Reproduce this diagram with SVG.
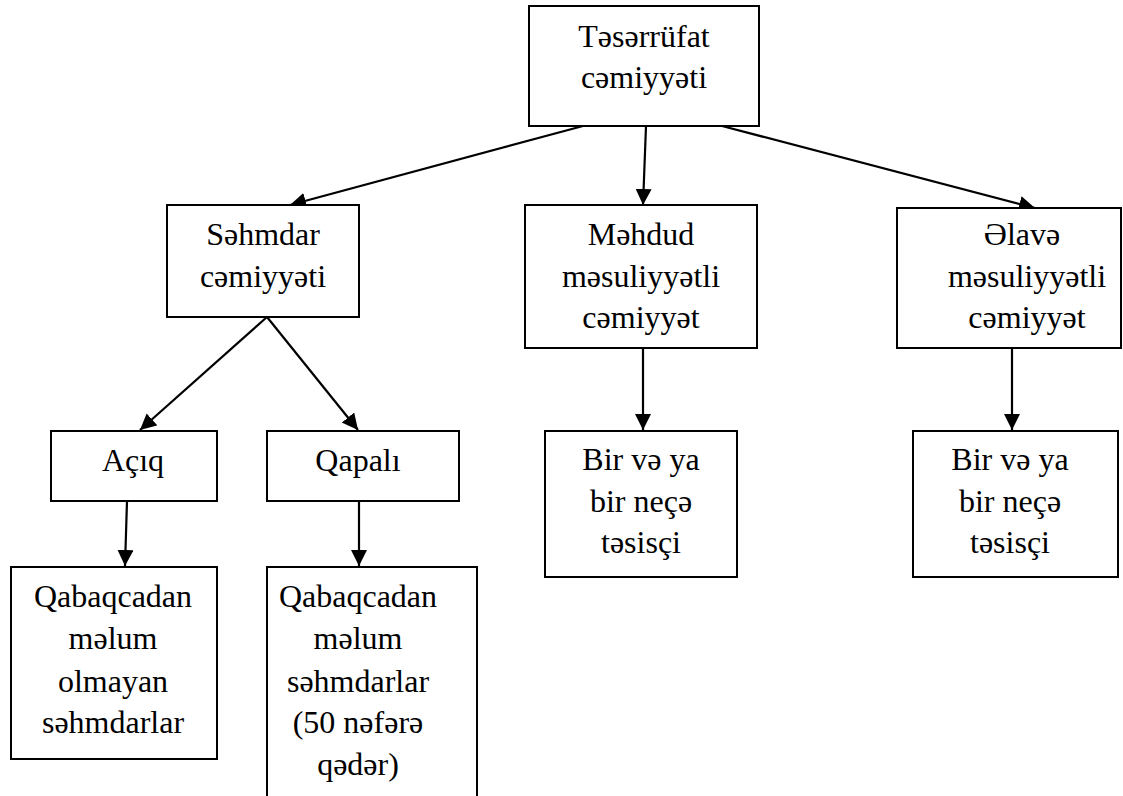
<svg xmlns="http://www.w3.org/2000/svg" width="1123" height="796" viewBox="0 0 1123 796">
<style>
rect.box{fill:#fff;stroke:#000;stroke-width:2}
text{font-family:"Liberation Serif","Times New Roman",serif;font-size:32px;fill:#000;text-anchor:middle}
.conn line{stroke:#000;stroke-width:2.2;fill:none}
</style>
<defs>
<marker id="arr" markerUnits="userSpaceOnUse" markerWidth="17" markerHeight="17" viewBox="0 0 17 17" refX="16" refY="8" orient="auto">
<path d="M0,0 L16,8 L0,16 z" fill="#000"/>
</marker>
</defs>
<rect width="1123" height="796" fill="#fff"/>
<g class="conn" id="connectors">
<line x1="583" y1="126" x2="290" y2="205" marker-end="url(#arr)"/>
<line x1="646" y1="126" x2="643" y2="205" marker-end="url(#arr)"/>
<line x1="722" y1="126" x2="1035" y2="208" marker-end="url(#arr)"/>
<line x1="267" y1="317" x2="140" y2="430" marker-end="url(#arr)"/>
<line x1="267" y1="317" x2="358" y2="430" marker-end="url(#arr)"/>
<line x1="127" y1="501" x2="125" y2="566" marker-end="url(#arr)"/>
<line x1="359" y1="501" x2="359" y2="566" marker-end="url(#arr)"/>
<line x1="643" y1="348" x2="643" y2="430" marker-end="url(#arr)"/>
<line x1="1012" y1="348" x2="1012" y2="430" marker-end="url(#arr)"/>
</g>
<g id="n-teserrufat">
<rect class="box" x="529" y="6" width="230" height="120"/>
<text x="644" y="47">Təsərrüfat</text>
<text x="644" y="88">cəmiyyəti</text>
</g>
<g id="n-sehmdar">
<rect class="box" x="167" y="205" width="192" height="112"/>
<text x="263" y="245">Səhmdar</text>
<text x="263" y="287">cəmiyyəti</text>
</g>
<g id="n-mehdud">
<rect class="box" x="525" y="205" width="232" height="143"/>
<text x="641" y="245">Məhdud</text>
<text x="641" y="287">məsuliyyətli</text>
<text x="641" y="328">cəmiyyət</text>
</g>
<g id="n-elave">
<rect class="box" x="897" y="208" width="224" height="140"/>
<text x="1022" y="245">Əlavə</text>
<text x="1027" y="287">məsuliyyətli</text>
<text x="1027" y="328">cəmiyyət</text>
</g>
<g id="n-aciq">
<rect class="box" x="51" y="431" width="166" height="70"/>
<text x="133" y="471">Açıq</text>
</g>
<g id="n-qapali">
<rect class="box" x="267" y="431" width="192" height="70"/>
<text x="358" y="471">Qapalı</text>
</g>
<g id="n-mehdud-tesisci">
<rect class="box" x="545" y="431" width="192" height="146"/>
<text x="641" y="470">Bir və ya</text>
<text x="641" y="512">bir neçə</text>
<text x="641" y="553">təsisçi</text>
</g>
<g id="n-elave-tesisci">
<rect class="box" x="913" y="431" width="205" height="146"/>
<text x="1010" y="470">Bir və ya</text>
<text x="1010" y="512">bir neçə</text>
<text x="1010" y="553">təsisçi</text>
</g>
<g id="n-aciq-sehmdarlar">
<rect class="box" x="11" y="567" width="206" height="192"/>
<text x="113" y="607">Qabaqcadan</text>
<text x="113" y="649">məlum</text>
<text x="113" y="692">olmayan</text>
<text x="113" y="733">səhmdarlar</text>
</g>
<g id="n-qapali-sehmdarlar">
<rect class="box" x="267" y="567" width="210" height="250"/>
<text x="358" y="607">Qabaqcadan</text>
<text x="358" y="649">məlum</text>
<text x="358" y="692">səhmdarlar</text>
<text x="358" y="733">(50 nəfərə</text>
<text x="358" y="775">qədər)</text>
</g>
</svg>
